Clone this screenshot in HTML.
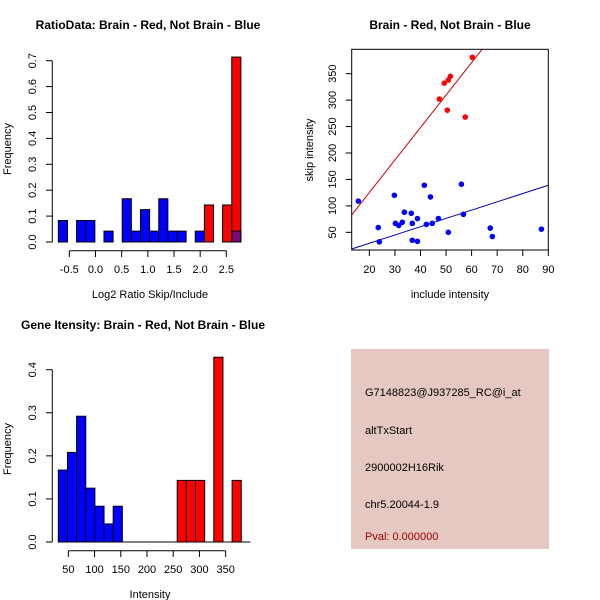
<!DOCTYPE html>
<html><head><meta charset="utf-8"><style>
body{margin:0;background:#fff}
svg{display:block;font-family:"Liberation Sans",sans-serif}
</style></head><body>
<svg id="s" width="600" height="600" viewBox="0 0 600 600">
<rect width="600" height="600" fill="#fff"/>
<g>
<rect x="351" y="349" width="198" height="200" fill="#e6c8c2"/>
<text x="365" y="396" font-size="11">G7148823@J937285_RC@i_at</text>
<text x="365" y="434" font-size="11">altTxStart</text>
<text x="365" y="471" font-size="11">2900002H16Rik</text>
<text x="365" y="508" font-size="11">chr5.20044-1.9</text>
<text x="365" y="540" font-size="11" fill="#a00000">Pval: 0.000000</text>
</g>
</svg>
<script>
// ---- Ratio histogram data ----
const ratioStart = -0.71, ratioWidth = 0.1744;
const ratioBlueBins = [0,2,3,5,7,8,9,10,11,12,13,15,19];
const ratioBlueFreq = [0.083,0.083,0.083,0.042,0.167,0.042,0.125,0.042,0.167,0.042,0.042,0.042,0.042];
const ratioRedBins = [16,18,19];
const ratioRedFreq = [0.143,0.143,0.714];
const ratioXTicks = [-0.5,0,0.5,1,1.5,2,2.5];
const ratioXLabels = ["-0.5","0.0","0.5","1.0","1.5","2.0","2.5"];
const ratioYTicks = [0,0.1,0.2,0.3,0.4,0.5,0.6,0.7];
// ---- Scatter data ----
const redInclude = [60.3,49.3,50.9,51.7,47.4,50.5,57.5];
const redSkip = [381,332,338,345,302,281,268];
const blueInclude = [15.7,23.5,23.9,29.8,30.2,31.5,32.9,33.7,36.4,36.8,36.8,38.8,38.8,41.5,42.3,43.9,44.6,47.0,50.9,56.0,56.8,67.3,68.1,87.3];
const blueSkip = [109,59,32,120,67,63,69,88,86,67,35,76,33,139,65,117,67,76,50,141,84,58,42,56];
const redFit = [2.5,6.14];
const blueFit = [-2,1.567];
const scXTicks = [20,30,40,50,60,70,80,90];
const scYTicks = [50,100,150,200,250,300,350];
// ---- Intensity histogram data ----
const intStart = 30.9, intWidth = 17.44;
const intBlueBins = [0,1,2,3,4,5,6];
const intBlueFreq = [0.167,0.208,0.292,0.125,0.083,0.042,0.083];
const intRedBins = [13,14,15,17,19];
const intRedFreq = [0.143,0.143,0.143,0.429,0.143];
const intXTicks = [50,100,150,200,250,300,350];
const intYTicks = [0,0.1,0.2,0.3,0.4];

const NS="http://www.w3.org/2000/svg", svg=document.getElementById('s');
function el(tag,attrs,parent,text){const e=document.createElementNS(NS,tag);for(const k in attrs)e.setAttribute(k,attrs[k]);if(text!==undefined)e.textContent=text;(parent||svg).appendChild(e);return e;}
function grp(name){const g=el('g',{});


return g;}
function lin(d0,d1,p0,p1){return v=>p0+(v-d0)/(d1-d0)*(p1-p0);}

// ===== Panel 1 =====
{
const g=grp('ratio-histogram');
const x=lin(-0.5,2.5,69.33,226.33), y=lin(0,0.7,242,60.7);
function bar(bin,f,fill,name){const x0=x(ratioStart+bin*ratioWidth),x1=x(ratioStart+(bin+1)*ratioWidth);
const r=el('rect',{x:x0,y:y(f),width:x1-x0,height:y(0)-y(f),fill:fill,stroke:'#000','stroke-width':1},g);

}
ratioRedBins.forEach((b,i)=>bar(b,ratioRedFreq[i],'#ff0000','red-bar'));
ratioBlueBins.forEach((b,i)=>{const isOver=ratioRedBins.includes(b);bar(b,ratioBlueFreq[i],isOver?'#7a0a7a':'#0000ff','blue-bar');});
el('line',{x1:52.3,x2:52.3,y1:y(0),y2:y(0.7),stroke:'#000'},g);
ratioYTicks.forEach(t=>{el('line',{x1:46,x2:52.3,y1:y(t),y2:y(t),stroke:'#000'},g);
const tx=el('text',{x:0,y:0,transform:`translate(36,${y(t)}) rotate(-90)`,'font-size':11,'text-anchor':'middle'},g,t.toFixed(1));

});
el('line',{x1:x(-0.5),x2:x(2.5),y1:250.7,y2:250.7,stroke:'#000'},g);
ratioXTicks.forEach((t,i)=>{el('line',{x1:x(t),x2:x(t),y1:250.7,y2:257,stroke:'#000'},g);
const tx=el('text',{x:x(t),y:273,'font-size':11,'text-anchor':'middle'},g,ratioXLabels[i]);

});
const t1=el('text',{x:148,y:29,'font-size':12,'font-weight':'bold','text-anchor':'middle'},g,'RatioData: Brain - Red, Not Brain - Blue');


const t2=el('text',{x:150,y:298,'font-size':11,'text-anchor':'middle'},g,'Log2 Ratio Skip/Include');


const t3=el('text',{x:0,y:0,transform:'translate(11,149) rotate(-90)','font-size':11,'text-anchor':'middle'},g,'Frequency');


}

// ===== Panel 2 =====
{
const g=grp('intensity-scatter');
const x=lin(20,90,369.33,548.33), y=lin(50,350,232.33,73.67);
const L=351.7,R=548.3,T=49.3,B=250;
el('defs',{},g).innerHTML='<clipPath id="cp"><rect x="351.7" y="49.3" width="196.6" height="200.7"/></clipPath>';
const xa=x.inv=v=>20+(v-369.33)/(548.33-369.33)*70;
const xl=xa(L),xr=xa(R);
const rl=el('line',{x1:L,x2:R,y1:y(redFit[0]+redFit[1]*xl),y2:y(redFit[0]+redFit[1]*xr),stroke:'#cc0000','clip-path':'url(#cp)'},g);


const bl=el('line',{x1:L,x2:R,y1:y(blueFit[0]+blueFit[1]*xl),y2:y(blueFit[0]+blueFit[1]*xr),stroke:'#0000aa','clip-path':'url(#cp)'},g);


redInclude.forEach((v,i)=>{const c=el('circle',{cx:x(v),cy:y(redSkip[i]),r:2.8,fill:'#ff0000'},g);

});
blueInclude.forEach((v,i)=>{const c=el('circle',{cx:x(v),cy:y(blueSkip[i]),r:2.8,fill:'#0000ff'},g);

});
el('rect',{x:L,y:T,width:R-L,height:B-T,fill:'none',stroke:'#000'},g);
scXTicks.forEach(t=>{el('line',{x1:x(t),x2:x(t),y1:B,y2:B+6,stroke:'#000'},g);
const tx=el('text',{x:x(t),y:273,'font-size':11,'text-anchor':'middle'},g,String(t));

});
scYTicks.forEach(t=>{el('line',{x1:L-6,x2:L,y1:y(t),y2:y(t),stroke:'#000'},g);
const tx=el('text',{x:0,y:0,transform:`translate(336,${y(t)}) rotate(-90)`,'font-size':11,'text-anchor':'middle'},g,String(t));

});
const t1=el('text',{x:450,y:29,'font-size':12,'font-weight':'bold','text-anchor':'middle'},g,'Brain - Red, Not Brain - Blue');


const t2=el('text',{x:450,y:298,'font-size':11,'text-anchor':'middle'},g,'include intensity');


const t3=el('text',{x:0,y:0,transform:'translate(313,150) rotate(-90)','font-size':11,'text-anchor':'middle'},g,'skip intensity');


}

// ===== Panel 3 =====
{
const g=grp('intensity-histogram');
const x=lin(50,350,68.33,225.67), y=lin(0,0.4,542,369.7);
function bar(bin,f,fill,name){const x0=x(intStart+bin*intWidth),x1=x(intStart+(bin+1)*intWidth);
const r=el('rect',{x:x0,y:y(f),width:x1-x0,height:y(0)-y(f),fill:fill,stroke:'#000','stroke-width':1},g);

}
intRedBins.forEach((b,i)=>bar(b,intRedFreq[i],'#ff0000','red-bar'));
intBlueBins.forEach((b,i)=>bar(b,intBlueFreq[i],'#0000ff','blue-bar'));
el('line',{x1:x(intStart),x2:x(intStart+21*intWidth),y1:y(0),y2:y(0),stroke:'#000'},g);
el('line',{x1:52.3,x2:52.3,y1:y(0),y2:y(0.4),stroke:'#000'},g);
intYTicks.forEach(t=>{el('line',{x1:46,x2:52.3,y1:y(t),y2:y(t),stroke:'#000'},g);
const tx=el('text',{x:0,y:0,transform:`translate(36,${y(t)}) rotate(-90)`,'font-size':11,'text-anchor':'middle'},g,t.toFixed(1));

});
el('line',{x1:x(50),x2:x(350),y1:550.7,y2:550.7,stroke:'#000'},g);
intXTicks.forEach(t=>{el('line',{x1:x(t),x2:x(t),y1:550.7,y2:557,stroke:'#000'},g);
const tx=el('text',{x:x(t),y:573,'font-size':11,'text-anchor':'middle'},g,String(t));

});
const t1=el('text',{x:143,y:329,'font-size':12,'font-weight':'bold','text-anchor':'middle'},g,'Gene Itensity: Brain - Red, Not Brain - Blue');


const t2=el('text',{x:150,y:598,'font-size':11,'text-anchor':'middle'},g,'Intensity');


const t3=el('text',{x:0,y:0,transform:'translate(11,449) rotate(-90)','font-size':11,'text-anchor':'middle'},g,'Frequency');


}
</script>
</body></html>
